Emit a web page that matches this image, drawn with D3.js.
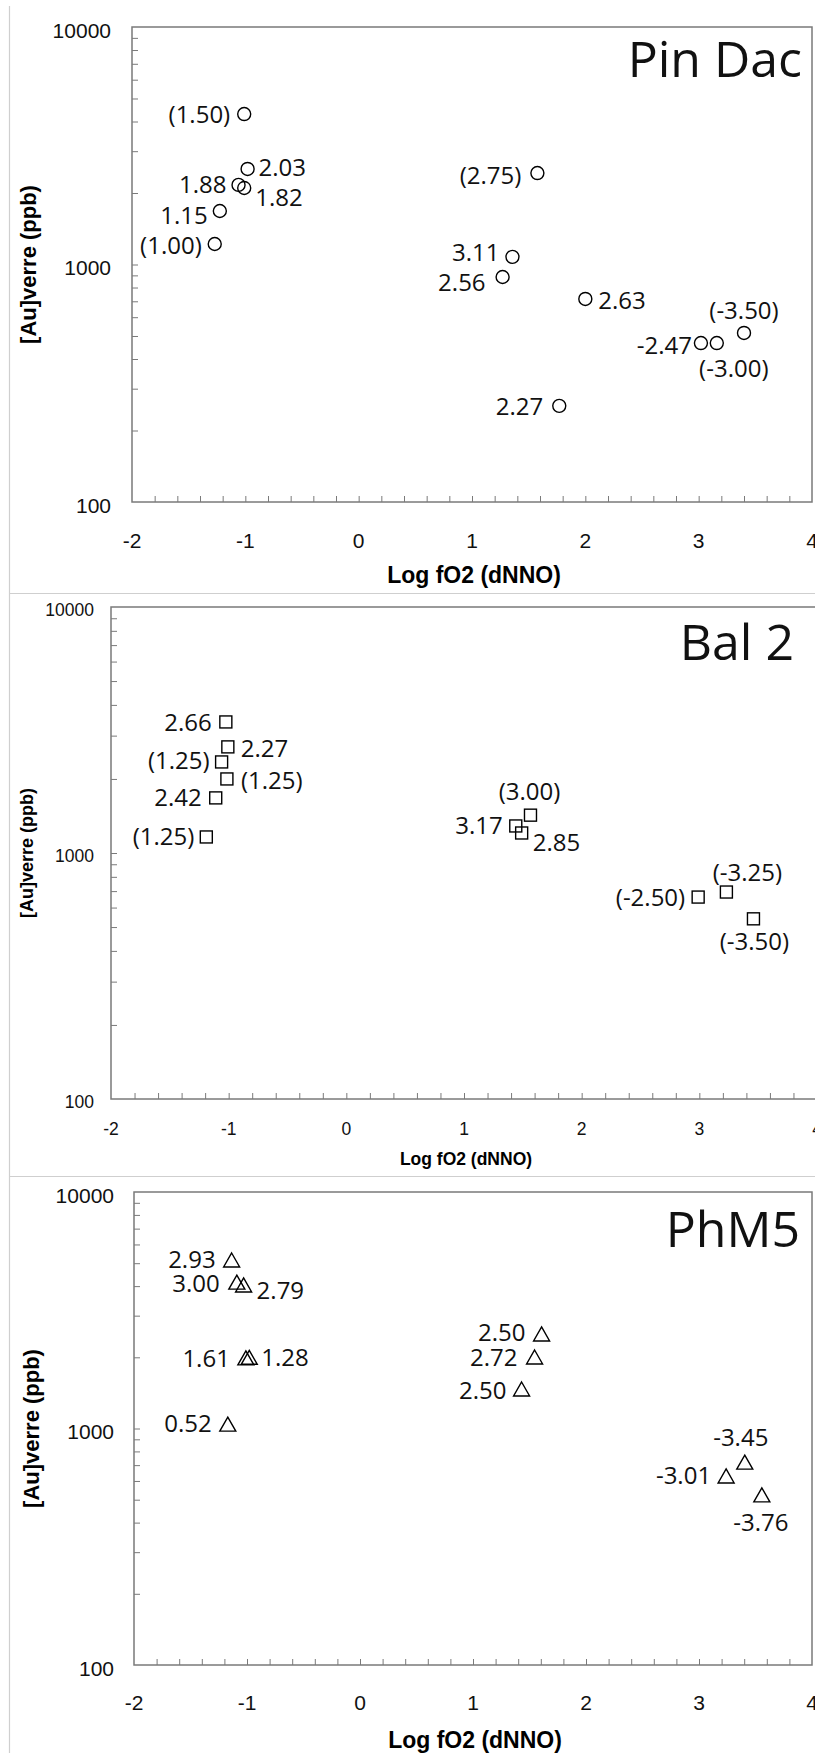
<!DOCTYPE html>
<html>
<head>
<meta charset="utf-8">
<script src="https://cdn.jsdelivr.net/npm/d3@7"></script>
<style>
  html, body { margin: 0; padding: 0; background: #fff; }
  svg { display: block; }
</style>
</head>
<body>
<svg id="chart" width="815" height="1753"></svg>
<script>
// ---------- DATA ----------
const xTickValues = [-2, -1, 0, 1, 2, 3, 4];
const yTickValues = [100, 1000, 10000];
const panelTitles = ["Pin Dac", "Bal 2", "PhM5"];
const xAxisTitle = "Log fO2 (dNNO)";
const yAxisTitle = "[Au]verre (ppb)";

// Pin Dac (circles)
const pinDacX = [-1.01, -0.98, -1.06, -1.01, -1.225, -1.27, 1.577, 1.357, 1.27, 2.0, 3.40, 3.02, 3.16, 1.77];
const pinDacY = [4300, 2525, 2163, 2100, 1680, 1220, 2427, 1077, 886, 716, 515, 467, 467, 254];
const pinDacLabels = ["(1.50)", "2.03", "1.88", "1.82", "1.15", "(1.00)", "(2.75)", "3.11", "2.56", "2.63", "(-3.50)", "-2.47", "(-3.00)", "2.27"];

// Bal 2 (squares)
const bal2X = [-1.024, -1.007, -1.06, -1.015, -1.11, -1.19, 1.565, 1.44, 1.49, 2.99, 3.23, 3.46];
const bal2Y = [3410, 2700, 2345, 2000, 1675, 1162, 1425, 1288, 1206, 662, 694, 540];
const bal2Labels = ["2.66", "2.27", "(1.25)", "(1.25)", "2.42", "(1.25)", "(3.00)", "3.17", "2.85", "(-2.50)", "(-3.25)", "(-3.50)"];

// PhM5 (triangles)
const phm5X = [-1.136, -1.09, -1.03, -1.01, -0.98, -1.17, 1.607, 1.545, 1.43, 3.405, 3.24, 3.556];
const phm5Y = [5157, 4160, 4045, 1988, 2000, 1044, 2511, 2006, 1469, 721, 630, 524];
const phm5Labels = ["2.93", "3.00", "2.79", "1.61", "1.28", "0.52", "2.50", "2.72", "2.50", "-3.45", "-3.01", "-3.76"];

// ---------- LABEL PLACEMENT (anchor, dx, dy relative to the marker) ----------
const pinDacLabelPos = [["end",-14,0],["start",11,-2],["end",-12,-1],["start",11,9],["end",-12,4],["end",-13,1],
  ["end",-16,2],["end",-13,-4],["end",-17,5],["start",13,1],["middle",0,-23],["end",-9,2],["middle",17,25],["end",-16,1]];
const bal2LabelPos = [["end",-14,0],["start",13,1],["end",-12,-2],["start",14,1],["end",-14,-1],["end",-12,-1],
  ["middle",-1,-24],["end",-13,-1],["start",11,9],["end",-13,0],["middle",21,-20],["middle",1,23]];
const phm5LabelPos = [["end",-16,-1],["end",-17,1],["start",13,5],["end",-16,0],["start",12,0],["end",-16,-1],
  ["end",-16,-2],["end",-17,0],["end",-15,1],["middle",-4,-25],["end",-15,-1],["middle",-1,27]];

// ---------- LAYOUT ----------
const panels = [
  { title: panelTitles[0], xs: pinDacX, ys: pinDacY, labels: pinDacLabels, pos: pinDacLabelPos, marker: "circle",
    left: 132, right: 812, top: 27, bottom: 502, tickFont: 21, tickGap: 21, xTickDy: 38, yTitleX: 28, yTitleFont: 22,
    xTitleY: 575, xTitleFont: 23, titleRight: 802, titleBase: 77 },
  { title: panelTitles[1], xs: bal2X, ys: bal2Y, labels: bal2Labels, pos: bal2LabelPos, marker: "square",
    left: 111, right: 817, top: 607, bottom: 1099, tickFont: 17.5, tickGap: 17, xTickDy: 30, yTitleX: 27, yTitleFont: 18,
    xTitleY: 1159, xTitleFont: 17.5, titleRight: 794, titleBase: 660 },
  { title: panelTitles[2], xs: phm5X, ys: phm5Y, labels: phm5Labels, pos: phm5LabelPos, marker: "triangle",
    left: 134, right: 812, top: 1192, bottom: 1665, tickFont: 21, tickGap: 20, xTickDy: 37, yTitleX: 31, yTitleFont: 22,
    xTitleY: 1740, xTitleFont: 23, titleRight: 800, titleBase: 1247 }
];

const svg = d3.select("#chart");
const AXIS = "#7a7a7a";
const FRAME = "#cfcfcf";
const labelFont = "'Open Sans', 'Noto Sans', sans-serif";
const axisFont = "'Liberation Sans', Arial, sans-serif";

// outer panel frames
const frame = svg.append("g").attr("stroke", FRAME).attr("stroke-width", 1.2).attr("fill", "none");
frame.append("line").attr("x1", 9.5).attr("x2", 9.5).attr("y1", 6).attr("y2", 1753);
frame.append("line").attr("x1", 9).attr("x2", 815).attr("y1", 593.5).attr("y2", 593.5);
frame.append("line").attr("x1", 9).attr("x2", 815).attr("y1", 1176.5).attr("y2", 1176.5);

panels.forEach(p => {
  const x = d3.scaleLinear().domain([-2, 4]).range([p.left, p.right]);
  const y = d3.scaleLog().domain([100, 10000]).range([p.bottom, p.top]);
  const g = svg.append("g");

  // plot border
  g.append("rect").attr("x", p.left).attr("y", p.top)
    .attr("width", p.right - p.left).attr("height", p.bottom - p.top)
    .attr("fill", "#fff").attr("stroke", AXIS).attr("stroke-width", 1.5);

  // y minor/major ticks (inside)
  const yMinor = [];
  [100, 1000].forEach(d => { for (let k = 2; k <= 9; k++) yMinor.push(d * k); });
  const yAx = d3.axisRight(y).tickValues(yMinor.concat([1000])).tickSize(6).tickFormat("");
  const ya = g.append("g").attr("transform", `translate(${p.left},0)`).call(yAx);
  ya.select(".domain").remove();
  ya.selectAll("line").attr("stroke", AXIS).attr("stroke-width", 1);

  // x ticks every 0.2 (inside, pointing up)
  const xMinor = d3.range(0, 31).map(i => -2 + i * 0.2).filter(v => v > -1.99 && v < 3.99);
  const xAx = d3.axisTop(x).tickValues(xMinor).tickSize(6).tickFormat("");
  const xa = g.append("g").attr("transform", `translate(0,${p.bottom})`).call(xAx);
  xa.select(".domain").remove();
  xa.selectAll("line").attr("stroke", AXIS).attr("stroke-width", 1);

  // y tick labels
  g.append("g").selectAll("text").data(yTickValues).join("text")
    .attr("x", p.left - p.tickGap)
    .attr("y", d => y(d) + 3 + 0.36 * p.tickFont)
    .attr("text-anchor", "end")
    .attr("font-family", axisFont).attr("font-size", p.tickFont).attr("fill", "#111")
    .text(d => d);

  // x tick labels
  g.append("g").selectAll("text").data(xTickValues).join("text")
    .attr("x", d => x(d))
    .attr("y", p.bottom + p.xTickDy + 0.36 * p.tickFont)
    .attr("text-anchor", "middle")
    .attr("font-family", axisFont).attr("font-size", p.tickFont).attr("fill", "#111")
    .text(d => d);

  // axis titles
  g.append("text")
    .attr("x", (p.left + p.right) / 2 + 2)
    .attr("y", p.xTitleY + 0.36 * p.xTitleFont)
    .attr("text-anchor", "middle")
    .attr("font-family", axisFont).attr("font-weight", "bold").attr("font-size", p.xTitleFont)
    .text(xAxisTitle);
  const cy = (p.top + p.bottom) / 2;
  g.append("text")
    .attr("transform", `translate(${p.yTitleX + 0.36 * p.yTitleFont},${cy}) rotate(-90)`)
    .attr("text-anchor", "middle")
    .attr("font-family", axisFont).attr("font-weight", "bold").attr("font-size", p.yTitleFont)
    .text(yAxisTitle);

  // panel title
  g.append("text")
    .attr("x", p.titleRight).attr("y", p.titleBase)
    .attr("text-anchor", "end")
    .attr("font-family", labelFont).attr("font-size", 50).attr("fill", "#111")
    .text(p.title);

  // markers
  const pts = p.xs.map((v, i) => ({ px: x(v), py: y(p.ys[i]), label: p.labels[i], pos: p.pos[i] }));
  const mk = g.append("g").attr("fill", "none").attr("stroke", "#000").attr("stroke-width", 1.4);
  pts.forEach(d => {
    if (p.marker === "circle") {
      mk.append("circle").attr("cx", d.px).attr("cy", d.py).attr("r", 6.5);
    } else if (p.marker === "square") {
      mk.append("rect").attr("x", d.px - 6).attr("y", d.py - 6).attr("width", 12).attr("height", 12);
    } else {
      const w = 16, h = 14;
      mk.append("path").attr("d",
        `M${d.px},${d.py - h / 2}L${d.px + w / 2},${d.py + h / 2}L${d.px - w / 2},${d.py + h / 2}Z`);
    }
  });

  // point labels
  g.append("g").selectAll("text").data(pts).join("text")
    .attr("x", d => d.px + d.pos[1])
    .attr("y", d => d.py + d.pos[2] + 0.36 * 24)
    .attr("text-anchor", d => d.pos[0])
    .attr("font-family", labelFont).attr("font-size", 24).attr("fill", "#111")
    .text(d => d.label);
});
</script>
</body>
</html>
